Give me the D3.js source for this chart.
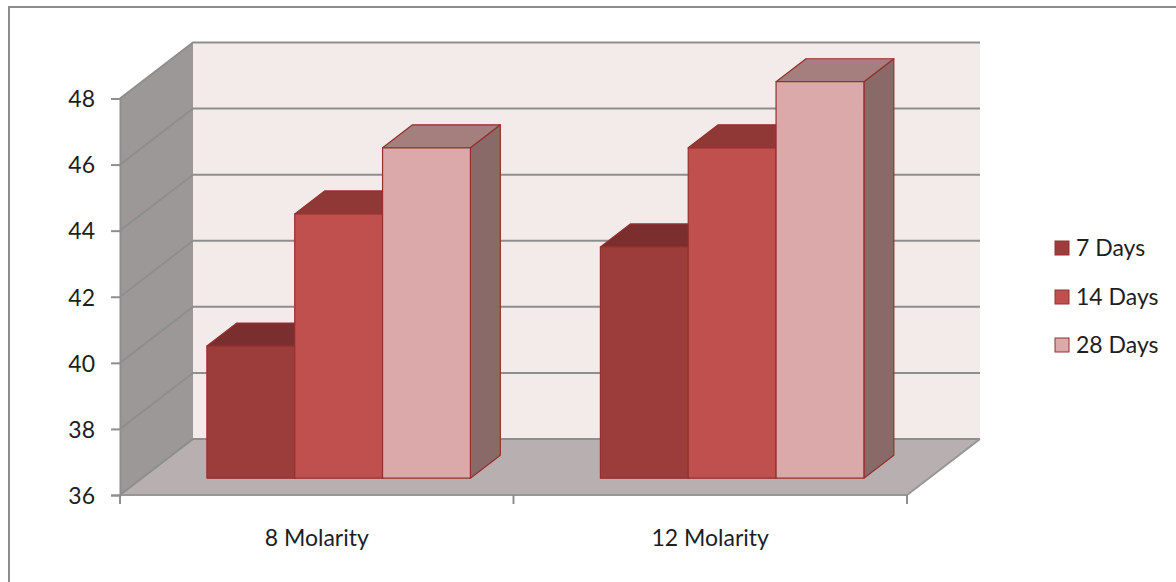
<!DOCTYPE html>
<html>
<head>
<meta charset="utf-8">
<script src="https://cdn.jsdelivr.net/npm/d3@7"></script>
<style>
  html, body { margin: 0; padding: 0; background: #ffffff; }
  svg { display: block; }
  text { font-family: Lato, "Open Sans", sans-serif; fill: #1e1e1e; }
</style>
</head>
<body>
<svg id="chart" width="1176" height="582"></svg>
<script>
// Compressive strength by molarity and curing age
const categories = ["8 Molarity", "12 Molarity"];
const seriesNames = ["7 Days", "14 Days", "28 Days"];
const days7  = [40, 43];
const days14 = [44, 46];
const days28 = [46, 48];
const yTicks = [36, 38, 40, 42, 44, 46, 48];

const seriesValues = [days7, days14, days28];

// colours per series: front face, top face, side face
const frontColors = ["#9d3d3b", "#c0504d", "#dba9a9"];
const topColors   = ["#7a2e2d", "#8f3836", "#a57e7e"];
const sideColors  = ["#6a2725", "#853532", "#8a6a69"];
const edgeColor   = "#94302d";

const svg = d3.select("#chart");

// outer frame
svg.append("rect")
  .attr("x", 9).attr("y", 7).attr("width", 1200).attr("height", 600)
  .attr("fill", "none").attr("stroke", "#8c8c8c").attr("stroke-width", 2);

// front plane of the 3D box
const x0 = d3.scaleBand().domain(categories).range([120, 907]).paddingInner(0).paddingOuter(0);
const x1 = d3.scaleBand().domain(seriesNames).range([0, x0.bandwidth()]).paddingInner(0).paddingOuter(0.74);
const y = d3.scaleLinear().domain([36, 48]).range([495, 98.5]);

// depth offset of the back wall
const DX = 73, DY = 56;
const P = (x, v, z) => [x + z * DX, y(v) - z * DY];
const poly = pts => "M" + pts.map(p => p.join(",")).join("L") + "Z";

const xL = x0.range()[0], xR = x0.range()[1];
const yMin = y.domain()[0], yMax = y.domain()[1];

// walls and floor
svg.append("path")
  .attr("d", poly([P(xL, yMax, 1), P(xR, yMax, 1), P(xR, yMin, 1), P(xL, yMin, 1)]))
  .attr("fill", "#f3eaea");
svg.append("path")
  .attr("d", poly([P(xL, yMax, 0), P(xL, yMax, 1), P(xL, yMin, 1), P(xL, yMin, 0)]))
  .attr("fill", "#9d9898");
svg.append("path")
  .attr("d", poly([P(xL, yMin, 0), P(xR, yMin, 0), P(xR, yMin, 1), P(xL, yMin, 1)]))
  .attr("fill", "#b8b0b0");

// gridlines across side wall and back wall
const line = d3.line();
svg.append("g").selectAll("path")
  .data(yTicks)
  .join("path")
  .attr("d", t => line([P(xL, t, 0), P(xL, t, 1), P(xR, t, 1)]))
  .attr("fill", "none")
  .attr("stroke", "#8e8e8e")
  .attr("stroke-width", 2);

// floor edges
svg.append("path")
  .attr("d", line([P(xL, yMin, 0), P(xR, yMin, 0), P(xR, yMin, 1)]))
  .attr("fill", "none").attr("stroke", "#969696").attr("stroke-width", 2);

// bars
const z0 = 0.30, z1 = 0.71;
const bars = [];
categories.forEach((c, ci) => {
  seriesNames.forEach((s, si) => {
    bars.push({ c, s, si, v: seriesValues[si][ci] });
  });
});

const barG = svg.append("g");
bars.forEach(b => {
  const xl = x0(b.c) + x1(b.s);
  const xr = xl + x1.bandwidth();
  const g = barG.append("g");
  g.append("path")
    .attr("d", poly([P(xr, yMin, z0), P(xr, yMin, z1), P(xr, b.v, z1), P(xr, b.v, z0)]))
    .attr("fill", sideColors[b.si]).attr("stroke", edgeColor).attr("stroke-width", 1.2)
    .attr("stroke-linejoin", "round");
  g.append("path")
    .attr("d", poly([P(xl, b.v, z0), P(xr, b.v, z0), P(xr, b.v, z1), P(xl, b.v, z1)]))
    .attr("fill", topColors[b.si]).attr("stroke", edgeColor).attr("stroke-width", 1.2)
    .attr("stroke-linejoin", "round");
  g.append("path")
    .attr("d", poly([P(xl, yMin, z0), P(xr, yMin, z0), P(xr, b.v, z0), P(xl, b.v, z0)]))
    .attr("fill", frontColors[b.si]).attr("stroke", edgeColor).attr("stroke-width", 1.2)
    .attr("stroke-linejoin", "round");
});

// value axis on the front plane
const yAxis = svg.append("g")
  .attr("transform", `translate(${xL},0)`)
  .call(d3.axisLeft(y).tickValues(yTicks).tickSize(9).tickPadding(16).tickFormat(d3.format("d")));
yAxis.select(".domain").attr("stroke", "#8e8e8e").attr("stroke-width", 2);
yAxis.selectAll(".tick line").attr("stroke", "#8e8e8e").attr("stroke-width", 2);
yAxis.selectAll(".tick text")
  .attr("font-size", 23).attr("font-family", "Lato, 'Open Sans', sans-serif")
  .attr("fill", "#1e1e1e").attr("dy", "0.36em");

// category axis: ticks on band boundaries, labels at band centres
const xTickPos = categories.map(c => x0(c)).concat([xR]);
svg.append("g").selectAll("line")
  .data(xTickPos)
  .join("line")
  .attr("x1", d => d).attr("x2", d => d)
  .attr("y1", y(yMin)).attr("y2", y(yMin) + 9)
  .attr("stroke", "#8e8e8e").attr("stroke-width", 2);
svg.append("g").selectAll("text")
  .data(categories)
  .join("text")
  .attr("x", c => x0(c) + x0.bandwidth() / 2)
  .attr("y", 546)
  .attr("text-anchor", "middle")
  .attr("font-size", 23)
  .text(c => c);

// legend
const legend = svg.append("g").attr("transform", "translate(1055,0)");
const legendY = [248, 297, 345];
seriesNames.forEach((s, i) => {
  legend.append("rect")
    .attr("x", 0).attr("y", legendY[i] - 7)
    .attr("width", 14).attr("height", 14)
    .attr("fill", frontColors[i]).attr("stroke", edgeColor).attr("stroke-width", 1);
  legend.append("text")
    .attr("x", 21).attr("y", legendY[i])
    .attr("dy", "0.36em")
    .attr("font-size", 23)
    .text(s);
});
</script>
</body>
</html>
